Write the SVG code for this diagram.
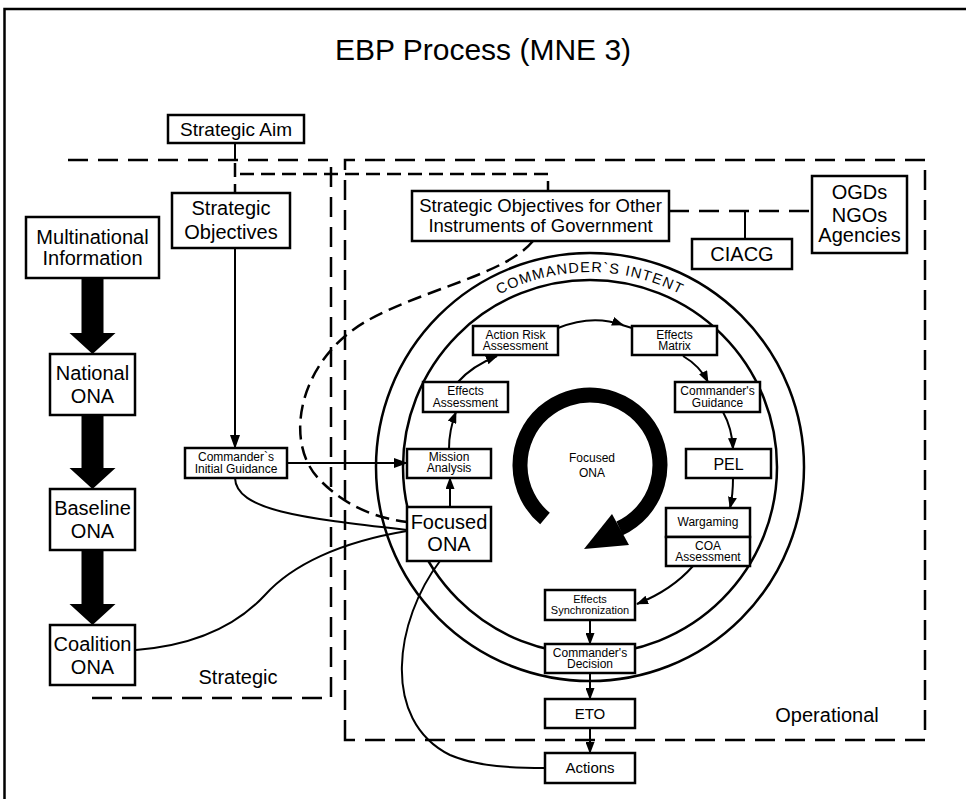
<svg xmlns="http://www.w3.org/2000/svg" width="966" height="799" viewBox="0 0 966 799">
  <style>
    .box { fill: #fff; stroke: #000; stroke-width: 2.5; }
    .lbl { font-family: "Liberation Sans", Arial, Helvetica, sans-serif; fill: #000; text-anchor: middle; }
    .s20 { font-size: 20px; }
    .s19 { font-size: 19px; }
    .s18 { font-size: 18.5px; }
    .s16 { font-size: 16px; }
    .s15 { font-size: 15px; }
    .s12 { font-size: 12px; }
    .s11 { font-size: 11px; }
    .conn { fill: none; stroke: #000; stroke-width: 2; }
    .region { fill: none; stroke: #000; stroke-width: 2.5; stroke-dasharray: 20 10; }
    .fine-dash { fill: none; stroke: #000; stroke-width: 2.5; stroke-dasharray: 14 7; }
    .ring { fill: none; stroke: #000; stroke-width: 2.5; }
    .fat { fill: #000; stroke: none; }
  </style>
  <defs>
    <marker id="ah" viewBox="0 0 14 10" refX="13" refY="5" markerWidth="14" markerHeight="10" markerUnits="userSpaceOnUse" orient="auto">
      <path d="M0,0 L14,5 L0,10 z" fill="#000"/>
    </marker>
    <marker id="ahs" viewBox="0 0 12 9" refX="11" refY="4.5" markerWidth="12" markerHeight="9" markerUnits="userSpaceOnUse" orient="auto">
      <path d="M0,0 L12,4.5 L0,9 z" fill="#000"/>
    </marker>
    <path id="intentArc" d="M406.8,400.3 A195,195 0 0,1 773.2,400.3"/>
  </defs>

  <rect width="966" height="799" fill="#fff"/>
  <!-- outer frame (left and top edges) -->
  <path d="M4.5,799 V9 H966" fill="none" stroke="#000" stroke-width="2.5"/>

  <text class="lbl" x="483" y="60" font-size="30">EBP Process (MNE 3)</text>

  <!-- regions -->
  <g id="regions">
    <path class="region" d="M68,160 H331 V698 H87"/>
    <path class="region" d="M345,740 V160 H925 V740 Z"/>
    <path class="fine-dash" d="M235,163 V193"/>
    <path class="fine-dash" d="M240,174 H548 V190"/>
    <text class="lbl s20" x="238" y="684">Strategic</text>
    <text class="lbl s20" x="827" y="722">Operational</text>
  </g>

  <!-- commander's intent ring -->
  <g id="intent-ring">
    <circle class="ring" cx="590" cy="467" r="214"/>
    <circle class="ring" cx="590" cy="467" r="187"/>
    <text class="lbl" font-size="14.5" letter-spacing="1.2">
      <textPath href="#intentArc" startOffset="50%">COMMANDER`S INTENT</textPath>
    </text>
  </g>

  <!-- central focused ONA cycle arrow -->
  <g id="cycle">
    <path d="M545.0,518.6 A70,70 0 1,1 619.6,528.4" fill="none" stroke="#000" stroke-width="15"/>
    <polygon class="fat" points="612,514 629,545 584,549"/>
    <text class="lbl s12" x="592" y="462">Focused</text>
    <text class="lbl s12" x="592" y="477">ONA</text>
  </g>

  <!-- connectors -->
  <g id="connectors">
    <!-- thick information flow -->
    <polygon class="fat" points="81.5,278 103.5,278 103.5,333 115.5,333 92.5,354 69.5,333 81.5,333"/>
    <polygon class="fat" points="81.5,415 103.5,415 103.5,468 115.5,468 92.5,489 69.5,468 81.5,468"/>
    <polygon class="fat" points="81.5,550 103.5,550 103.5,604 115.5,604 92.5,625 69.5,604 81.5,604"/>

    <line class="conn" x1="235" y1="143" x2="235" y2="160"/>
    <path class="conn" d="M235,248 V448" marker-end="url(#ah)"/>
    <path class="conn" d="M287,463 H407" marker-end="url(#ah)"/>
    <path class="conn" d="M235,478 C236,510 300,518 407,530"/>
    <path class="conn" d="M136,650 C200,645 240,622 265,595 C292,565 340,542 407,531"/>
    <path class="fine-dash" stroke-width="2" d="M533,241 C505,275 420,290 365,322 C300,360 283,440 318,478 C343,505 375,518 407,522"/>
    <path class="conn" d="M440,561 C395,620 380,720 450,755 C478,767 515,768 545,768"/>

    <path class="region" d="M669,211 H812"/>
    <line class="conn" x1="745" y1="211" x2="745" y2="239"/>

    <!-- planning cycle -->
    <path class="conn" d="M450,507 V478" marker-end="url(#ahs)"/>
    <path class="conn" d="M449,449 Q449,430 456,412" marker-end="url(#ahs)"/>
    <path class="conn" d="M458,382 Q472,366 497,356" marker-end="url(#ahs)"/>
    <path class="conn" d="M558,328 Q592,314 623,325" marker-end="url(#ahs)"/>
    <path class="conn" d="M622,325 L632,328"/>
    <path class="conn" d="M683,356 Q700,366 708,382" marker-end="url(#ahs)"/>
    <path class="conn" d="M723,412 Q732,428 733,449" marker-end="url(#ahs)"/>
    <path class="conn" d="M733,478 Q733,495 730,508" marker-end="url(#ahs)"/>
    <path class="conn" d="M693,566 Q672,590 637,604" marker-end="url(#ahs)"/>
    <path class="conn" d="M590,620 V644" marker-end="url(#ahs)"/>
    <path class="conn" d="M590,673 V699" marker-end="url(#ahs)"/>
    <path class="conn" d="M590,728 V753" marker-end="url(#ahs)"/>
  </g>

  <!-- nodes -->
  <g id="strategic-aim">
    <rect class="box" x="168" y="115" width="136" height="28"/>
    <text class="lbl s19" x="236" y="136">Strategic Aim</text>
  </g>
  <g id="strategic-objectives">
    <rect class="box" x="172" y="193" width="118" height="55"/>
    <text class="lbl s20" x="231" y="215">Strategic</text>
    <text class="lbl s20" x="231" y="239">Objectives</text>
  </g>
  <g id="multinational-information">
    <rect class="box" x="26" y="217" width="133" height="61"/>
    <text class="lbl s20" x="92.5" y="244">Multinational</text>
    <text class="lbl s20" x="92.5" y="265">Information</text>
  </g>
  <g id="national-ona">
    <rect class="box" x="50" y="354" width="85" height="61"/>
    <text class="lbl s20" x="92.5" y="380">National</text>
    <text class="lbl s20" x="92.5" y="403">ONA</text>
  </g>
  <g id="baseline-ona">
    <rect class="box" x="50" y="489" width="85" height="61"/>
    <text class="lbl s20" x="92.5" y="515">Baseline</text>
    <text class="lbl s20" x="92.5" y="538">ONA</text>
  </g>
  <g id="coalition-ona">
    <rect class="box" x="50" y="625" width="85" height="60"/>
    <text class="lbl s20" x="92.5" y="651">Coalition</text>
    <text class="lbl s20" x="92.5" y="674">ONA</text>
  </g>
  <g id="commanders-initial-guidance">
    <rect class="box" x="185" y="448" width="102" height="30"/>
    <text class="lbl s12" x="236" y="461">Commander`s</text>
    <text class="lbl s12" x="236" y="472.5">Initial Guidance</text>
  </g>
  <g id="strategic-objectives-other">
    <rect class="box" x="412" y="191" width="257" height="50"/>
    <text class="lbl s18" x="540.5" y="211.5">Strategic Objectives for Other</text>
    <text class="lbl s18" x="540.5" y="232">Instruments of Government</text>
  </g>
  <g id="ciacg">
    <rect class="box" x="692" y="239" width="100" height="30"/>
    <text class="lbl s20" x="742" y="261">CIACG</text>
  </g>
  <g id="ogds">
    <rect class="box" x="812" y="176" width="95" height="77"/>
    <text class="lbl s20" x="859.5" y="199">OGDs</text>
    <text class="lbl s20" x="859.5" y="222">NGOs</text>
    <text class="lbl s20" x="859.5" y="242">Agencies</text>
  </g>
  <g id="focused-ona">
    <rect class="box" x="407" y="507" width="84" height="54"/>
    <text class="lbl s20" x="449" y="529">Focused</text>
    <text class="lbl s20" x="449" y="551">ONA</text>
  </g>
  <g id="mission-analysis">
    <rect class="box" x="407" y="449" width="84" height="29"/>
    <text class="lbl s12" x="449" y="461">Mission</text>
    <text class="lbl s12" x="449" y="472">Analysis</text>
  </g>
  <g id="effects-assessment">
    <rect class="box" x="423" y="382" width="85" height="30"/>
    <text class="lbl s12" x="465.5" y="395">Effects</text>
    <text class="lbl s12" x="465.5" y="406.5">Assessment</text>
  </g>
  <g id="action-risk-assessment">
    <rect class="box" x="473" y="326" width="85" height="29"/>
    <text class="lbl s12" x="515.5" y="338.5">Action Risk</text>
    <text class="lbl s12" x="515.5" y="350">Assessment</text>
  </g>
  <g id="effects-matrix">
    <rect class="box" x="632" y="326" width="85" height="29"/>
    <text class="lbl s12" x="674.5" y="338.5">Effects</text>
    <text class="lbl s12" x="674.5" y="350">Matrix</text>
  </g>
  <g id="commanders-guidance">
    <rect class="box" x="675" y="382" width="85" height="30"/>
    <text class="lbl s12" x="717.5" y="395">Commander's</text>
    <text class="lbl s12" x="717.5" y="406.5">Guidance</text>
  </g>
  <g id="pel">
    <rect class="box" x="686" y="449" width="85" height="29"/>
    <text class="lbl s16" x="728.5" y="469.5">PEL</text>
  </g>
  <g id="wargaming">
    <rect class="box" x="666" y="508" width="84" height="29"/>
    <text class="lbl s12" x="708" y="526">Wargaming</text>
  </g>
  <g id="coa-assessment">
    <rect class="box" x="666" y="537" width="84" height="29"/>
    <text class="lbl s12" x="708" y="549.5">COA</text>
    <text class="lbl s12" x="708" y="561">Assessment</text>
  </g>
  <g id="effects-synchronization">
    <rect class="box" x="545" y="590" width="90" height="30"/>
    <text class="lbl s11" x="590" y="602.5">Effects</text>
    <text class="lbl s11" x="590" y="614">Synchronization</text>
  </g>
  <g id="commanders-decision">
    <rect class="box" x="545" y="644" width="90" height="29"/>
    <text class="lbl s12" x="590" y="656.5">Commander's</text>
    <text class="lbl s12" x="590" y="668">Decision</text>
  </g>
  <g id="eto">
    <rect class="box" x="545" y="699" width="90" height="29"/>
    <text class="lbl s15" x="590" y="719">ETO</text>
  </g>
  <g id="actions">
    <rect class="box" x="545" y="753" width="90" height="30"/>
    <text class="lbl s15" x="590" y="773">Actions</text>
  </g>
</svg>
